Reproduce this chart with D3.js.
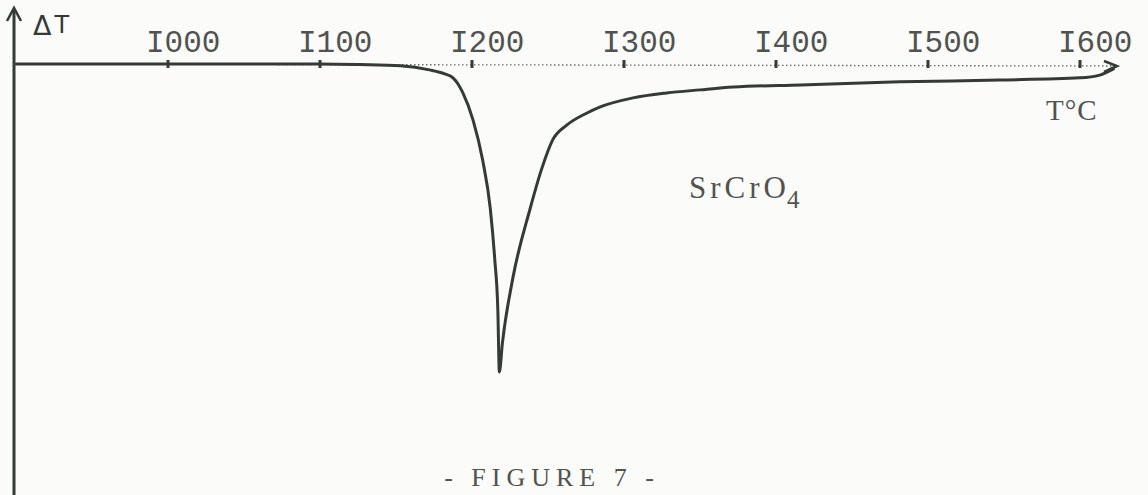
<!DOCTYPE html>
<html>
<head>
<meta charset="utf-8">
<script src="https://cdn.jsdelivr.net/npm/d3@7"></script>
<style>
  html, body { margin: 0; padding: 0; background: #fbfbf9; }
  svg { display: block; }
</style>
</head>
<body>
<svg id="chart" width="1148" height="495"></svg>
<script>
// DTA trace of SrCrO4: temperature (°C) and differential temperature (arbitrary units)
const temperature = [900, 1000, 1100, 1126, 1153, 1172, 1182, 1187.5, 1190.8, 1194, 1200.7, 1207, 1212, 1215, 1217, 1218,
  1220, 1227, 1238, 1246, 1253, 1262.5, 1275.7, 1284, 1306, 1328, 1350, 1372, 1416, 1481.6, 1547, 1600, 1613, 1622];
const deltaT = [0, 0, 0, -0.2, -0.6, -1.9, -3.2, -4.5, -6.5, -9.4, -18.2, -31.2, -46.8, -63.6, -79.9, -100,
  -90.6, -69.2, -47.4, -33.8, -24.7, -19.8, -15.9, -14, -11, -9.4, -8.4, -7.5, -6.8, -5.8, -5.2, -4.5, -3.6, -1.6];
const tickValues = [1000, 1100, 1200, 1300, 1400, 1500, 1600];
const tickLabels = ["I000", "I100", "I200", "I300", "I400", "I500", "I600"];

const svg = d3.select("#chart");
const ink = "#353a36";
const typeInk = "#505350";

const x = d3.scaleLinear().domain([900, 1600]).range([16, 1080]);
const y = d3.scaleLinear().domain([-100, 0]).range([372, 64]);
const y0 = y(0);

// vertical ΔT axis with arrow
svg.append("line")
  .attr("x1", 14).attr("x2", 14).attr("y1", 9).attr("y2", 495)
  .attr("stroke", ink).attr("stroke-width", 3);
svg.append("path")
  .attr("d", `M7,21 L14,8 L21,21`)
  .attr("fill", "none").attr("stroke", ink).attr("stroke-width", 2.5);
const dt = svg.append("text")
  .attr("x", 33).attr("y", 35)
  .attr("font-family", "DejaVu Sans, sans-serif")
  .attr("fill", ink);
dt.append("tspan").attr("font-size", 27).text("Δ");
dt.append("tspan").attr("dx", 3).attr("dy", -2).attr("font-size", 24).text("T");

// dotted temperature axis with arrow
svg.append("line")
  .attr("x1", 14).attr("x2", 1116).attr("y1", y0).attr("y2", y0 + 2)
  .attr("stroke", "#666").attr("stroke-width", 1.3)
  .attr("stroke-dasharray", "1.5,2.5");
svg.append("path")
  .attr("d", `M1104,${y0 - 3} L1117,${y0 + 2} L1104,${y0 + 8}`)
  .attr("fill", "none").attr("stroke", ink).attr("stroke-width", 2.5);

// tick marks and labels
svg.selectAll("rect.tick").data(tickValues).join("rect")
  .attr("class", "tick")
  .attr("x", d => x(d) - 1.5).attr("y", y0 - 4)
  .attr("width", 3).attr("height", 8)
  .attr("fill", ink);
svg.selectAll("text.tl").data(tickValues).join("text")
  .attr("class", "tl")
  .attr("x", d => x(d) - 22).attr("y", 52)
  .attr("font-family", "Liberation Mono, monospace").attr("font-size", 31)
  .attr("fill", typeInk)
  .text((d, i) => tickLabels[i]);

// curve
const pts = temperature.map((t, i) => [t, deltaT[i]]);
const line = d3.line().x(d => x(d[0])).y(d => y(d[1])).curve(d3.curveMonotoneX);
svg.append("path")
  .datum(pts)
  .attr("d", line)
  .attr("fill", "none").attr("stroke", ink).attr("stroke-width", 3)
  .attr("stroke-linejoin", "round").attr("stroke-linecap", "round");

// annotations
const serif = "Liberation Serif, serif";
svg.append("text").attr("x", 1046).attr("y", 120)
  .attr("font-family", serif).attr("font-size", 29).attr("fill", typeInk)
  .attr("letter-spacing", 1).text("T°C");
const lab = svg.append("text").attr("x", 689).attr("y", 198)
  .attr("font-family", serif).attr("font-size", 31).attr("fill", typeInk);
lab.append("tspan").attr("letter-spacing", 4).text("SrCr");
lab.append("tspan").text("O");
lab.append("tspan").attr("dx", 1).attr("dy", 10).attr("font-size", 25).text("4");

svg.append("text").attr("x", 552).attr("y", 486)
  .attr("text-anchor", "middle")
  .attr("font-family", serif).attr("font-size", 26).attr("fill", typeInk)
  .attr("letter-spacing", 6)
  .text("- FIGURE 7 -");
</script>
</body>
</html>
